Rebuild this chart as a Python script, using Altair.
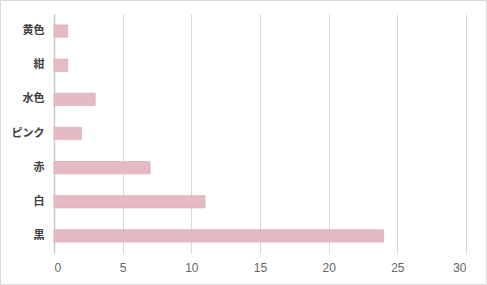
import altair as alt
import pandas as pd

categories = ["黄色", "紺", "水色", "ピンク", "赤", "白", "黒"]
values = [1, 1, 3, 2, 7, 11, 24]
x_ticks = [0, 5, 10, 15, 20, 25, 30]

df = pd.DataFrame({"color": categories, "count": values})

W, H = 412, 239
PL, PT = 54, 14

bars = alt.Chart(df).mark_bar(
    color="#E6BAC3", stroke="#DDAAB4", strokeWidth=0.7
).encode(
    x=alt.X("count:Q", scale=alt.Scale(domain=[0, 30], nice=False),
            axis=alt.Axis(values=x_ticks, title=None, grid=True, gridColor="#D9D9D9",
                          domain=False, ticks=False, labelColor="#666666",
                          labelFontSize=12, labelPadding=9, labelFont="Liberation Sans")),
    y=alt.Y("color:N", sort=categories,
            scale=alt.Scale(paddingInner=0.64, paddingOuter=0.32),
            axis=alt.Axis(title=None, ticks=False, domainColor="#C8C8C8", domainWidth=1.5,
                          labelColor="#404040", labelFontSize=11, labelFontWeight="bold",
                          labelPadding=10, labelFont="Noto Sans CJK JP")),
)

border = alt.Chart(pd.DataFrame({"a": [0]})).mark_rect(
    fill=None, stroke="#D9D9D9", strokeWidth=1
).encode(
    x=alt.value(-PL + 0.5), x2=alt.value(487 - PL - 0.5),
    y=alt.value(-PT + 0.5), y2=alt.value(285 - PT - 0.5),
)

chart = alt.layer(bars, border).properties(
    width=W, height=H,
    autosize=alt.AutoSizeParams(type="none"),
    padding={"left": PL, "top": PT, "right": 487 - PL - W, "bottom": 285 - PT - H},
    background="white",
).configure_view(stroke=None)

chart.save("out.html", embed_options={"renderer": "svg", "actions": False})
